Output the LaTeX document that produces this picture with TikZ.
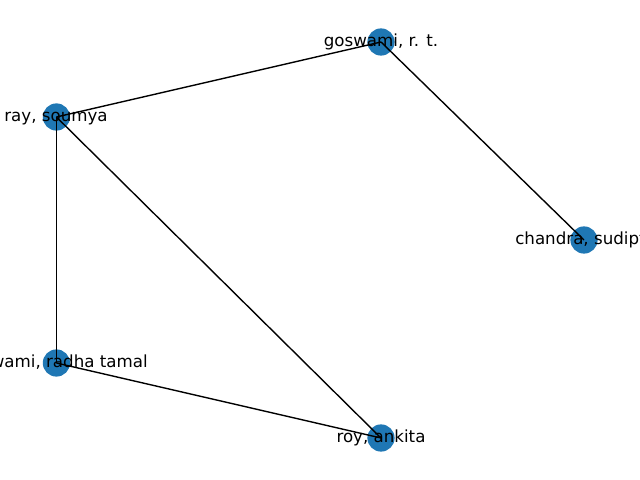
\documentclass[tikz,border=0pt]{standalone}
\usepackage{fontspec}
\setmainfont{DejaVu Sans}
\definecolor{nodeblue}{HTML}{1F77B4}
\begin{document}
\begin{tikzpicture}[x=0.01in,y=-0.01in,
  vertex/.style={circle,fill=nodeblue,draw=none,minimum size=0.272in,inner sep=0pt},
  edge/.style={draw=black,line width=1bp},
  lab/.style={font=\fontsize{12bp}{14bp}\selectfont,inner sep=0pt,text=black}]
\useasboundingbox (0,0) rectangle (640,480);
\clip (0,0) rectangle (640,480);
\node[vertex] (grt) at (381,42) {};
\node[vertex] (rs) at (56.4,117) {};
\node[vertex] (cs) at (584,240) {};
\node[vertex] (grtam) at (56.4,363) {};
\node[vertex] (ra) at (381,438) {};
\draw[edge] (grt.center) -- (rs.center);
\draw[edge] (grt.center) -- (cs.center);
\draw[edge] (rs.center) -- (grtam.center);
\draw[edge] (rs.center) -- (ra.center);
\draw[edge] (grtam.center) -- (ra.center);
\node[lab,anchor=base] (lgrt) at (381,46.7) {goswami, r. t.};
\node[lab,anchor=base] (lrs) at (56,121.7) {ray, soumya};
\node[lab,anchor=base west] (lcs) at (515,244.7) {chandra, sudipt};
\node[lab,anchor=base east] (lgrtam) at (148,367.7) {wami, radha tamal};
\node[lab,anchor=base] (lra) at (381,442.7) {roy, ankita};
\end{tikzpicture}
\end{document}
